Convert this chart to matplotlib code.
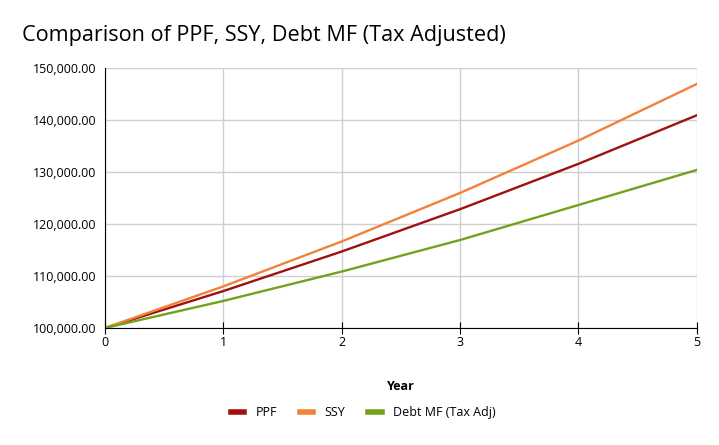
import matplotlib.pyplot as plt
from matplotlib.ticker import FuncFormatter

plt.rcParams['font.family'] = ['Open Sans', 'DejaVu Sans']

years = [0, 1, 2, 3, 4, 5]
ppf = [100000, 107100, 114704, 122848, 131570, 140911]
ssy = [100000, 108000, 116640, 125971, 136049, 146933]
debt_mf = [100000, 105200, 110850, 116920, 123650, 130400]

fig = plt.figure(figsize=(7.19, 4.45), dpi=100)
ax = fig.add_axes([0.146, 0.263, 0.823, 0.584])

ax.plot(years, ppf, color="#A01010", lw=1.7, label="PPF")
ax.plot(years, ssy, color="#F0823A", lw=1.7, label="SSY")
ax.plot(years, debt_mf, color="#72A21C", lw=1.7, label="Debt MF (Tax Adj)")

ax.set_xlim(0, 5)
ax.set_ylim(100000, 150000)
ax.set_xticks(years)
ax.set_yticks(range(100000, 150001, 10000))
ax.yaxis.set_major_formatter(FuncFormatter(lambda v, p: f"{v:,.2f}"))
ax.grid(True, color="#d0d0d0", lw=1)
ax.set_axisbelow(True)
for s in ["top", "right"]:
    ax.spines[s].set_visible(False)
ax.spines["left"].set_color("black")
ax.spines["bottom"].set_color("black")
ax.tick_params(axis="x", direction="inout", length=8, labelsize=9, pad=2)
ax.tick_params(axis="y", length=0, labelsize=9, pad=6)

ax.set_xlabel("Year", fontsize=9, fontweight="bold", labelpad=22)
fig.text(0.031, 0.92, "Comparison of PPF, SSY, Debt MF (Tax Adjusted)", fontsize=15.6, va="center")

leg = fig.legend(loc="center", bbox_to_anchor=(0.505, 0.072), ncol=3, frameon=False,
                 fontsize=9, handlelength=1.1, handletextpad=0.9, columnspacing=1.8)
for h in leg.legend_handles:
    h.set_linewidth(4)

fig.savefig("out.png")
